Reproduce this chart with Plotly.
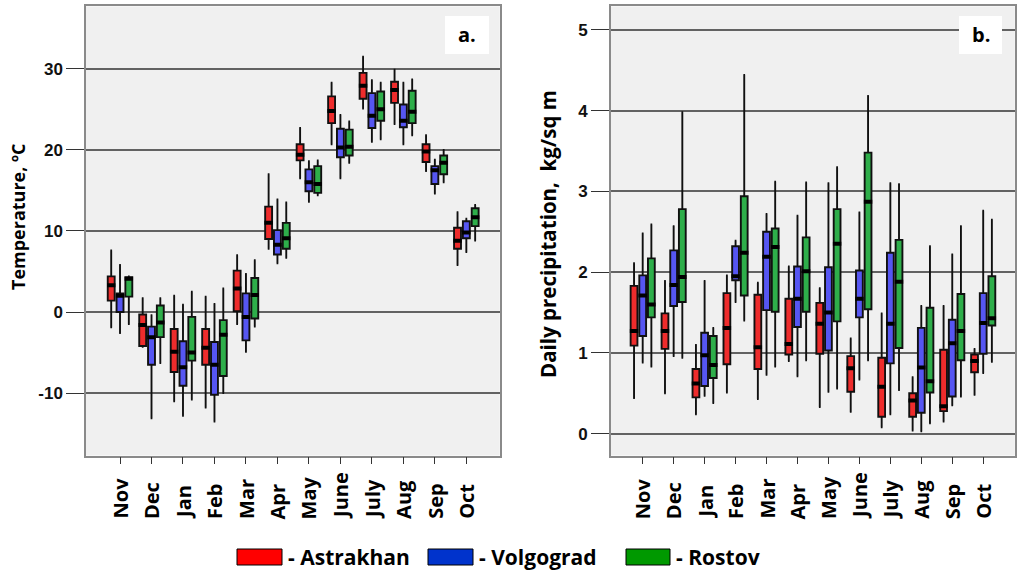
import plotly.graph_objects as go

# month labels and cities
months = ['Nov', 'Dec', 'Jan', 'Feb', 'Mar', 'Apr', 'May', 'June', 'July', 'Aug', 'Sep', 'Oct']
cities = ['Astrakhan', 'Volgograd', 'Rostov']
temp_ticks = [-10, 0, 10, 20, 30]
temp_ticktext = ['-10', '0', '10', '20', '30']
prec_ticks = [0, 1, 2, 3, 4, 5]

# temperature, degC: [whisker low, q1, median, q3, whisker high] per month
astrakhan_temp = [
    [-1.9, 1.4, 3.3, 4.4, 7.6], [-4.3, -4.2, -1.6, -0.3, 1.7], [-11.0, -7.4, -4.9, -2.1, 2.0],
    [-11.8, -6.5, -4.4, -2.1, 1.9], [-1.5, 0.1, 2.9, 5.1, 7.0], [7.8, 9.0, 11.0, 13.0, 17.0],
    [16.5, 18.7, 19.4, 20.7, 22.7], [20.7, 23.3, 24.8, 26.6, 28.3], [25.1, 26.3, 27.9, 29.5, 31.5],
    [23.2, 25.8, 27.4, 28.4, 29.9], [17.4, 18.5, 19.8, 20.7, 21.8], [5.8, 7.8, 8.8, 10.4, 12.3],
]
volgograd_temp = [
    [-2.6, 0.0, 2.0, 2.3, 5.8], [-13.1, -6.5, -3.1, -1.8, -0.4], [-12.8, -9.1, -6.8, -3.6, 0.9],
    [-13.5, -10.2, -6.5, -3.7, 1.0], [-4.9, -3.5, -0.6, 2.3, 4.7], [6.0, 7.1, 8.3, 10.1, 13.9],
    [13.6, 14.9, 16.0, 17.6, 18.6], [16.5, 19.1, 20.3, 22.6, 24.3], [21.0, 22.7, 24.2, 27.0, 28.6],
    [20.7, 22.8, 23.6, 25.6, 28.3], [14.6, 15.8, 17.5, 18.0, 18.8], [7.4, 9.1, 9.8, 11.2, 11.5],
]
rostov_temp = [
    [-1.5, 1.9, 4.1, 4.3, 4.4], [-6.3, -3.1, -1.3, 0.8, 1.7], [-10.8, -6.0, -5.0, -0.6, 2.5],
    [-10.0, -7.9, -2.8, -1.0, 2.9], [-1.8, -0.8, 2.1, 4.2, 6.4], [6.7, 7.8, 9.1, 11.0, 13.5],
    [14.4, 14.7, 15.8, 18.0, 18.7], [18.4, 19.3, 20.4, 22.5, 23.5], [21.3, 23.6, 25.0, 27.2, 28.3],
    [21.8, 23.3, 24.7, 27.3, 28.7], [16.0, 17.0, 18.4, 19.3, 20.0], [8.8, 10.6, 11.7, 12.8, 13.2],
]

# daily precipitation, kg/sq m
astrakhan_prec = [
    [0.44, 1.09, 1.27, 1.83, 2.11], [0.50, 1.05, 1.27, 1.49, 1.89], [0.24, 0.45, 0.62, 0.80, 1.10],
    [0.51, 0.86, 1.31, 1.74, 1.96], [0.43, 0.80, 1.07, 1.72, 1.87], [0.90, 0.98, 1.11, 1.67, 2.07],
    [0.33, 0.99, 1.36, 1.62, 1.80], [0.27, 0.52, 0.81, 0.96, 1.18], [0.08, 0.21, 0.58, 0.94, 1.49],
    [0.04, 0.21, 0.41, 0.50, 0.70], [0.15, 0.28, 0.34, 1.04, 1.58], [0.48, 0.76, 0.90, 0.98, 1.05],
]
volgograd_prec = [
    [0.88, 1.21, 1.71, 1.96, 2.48], [0.96, 1.58, 1.84, 2.27, 2.57], [0.47, 0.59, 0.97, 1.25, 1.89],
    [1.63, 1.90, 1.95, 2.32, 2.39], [0.73, 1.53, 2.19, 2.50, 2.72], [0.71, 1.32, 1.67, 2.07, 2.70],
    [0.52, 1.03, 1.50, 2.06, 3.10], [0.67, 1.44, 1.67, 2.02, 2.74], [0.24, 0.87, 1.36, 2.24, 3.10],
    [0.03, 0.26, 0.82, 1.31, 1.58], [0.35, 0.46, 1.12, 1.41, 2.22], [0.75, 0.99, 1.37, 1.74, 2.76],
]
rostov_prec = [
    [0.83, 1.44, 1.60, 2.17, 2.59], [0.94, 1.63, 1.94, 2.78, 3.98], [0.38, 0.69, 0.85, 1.21, 1.31],
    [1.40, 1.71, 2.24, 2.94, 4.44], [0.83, 1.51, 2.31, 2.54, 3.12], [0.91, 1.51, 2.01, 2.43, 3.11],
    [0.56, 1.39, 2.35, 2.78, 3.30], [0.91, 1.54, 2.87, 3.48, 4.18], [0.54, 1.06, 1.88, 2.40, 3.09],
    [0.13, 0.51, 0.65, 1.56, 2.32], [0.46, 0.91, 1.27, 1.73, 2.57], [0.89, 1.34, 1.43, 1.95, 2.65],
]

box_colors = ['#ee2c2c', '#5656f2', '#2eae4a']
legend_colors = ['#ff0000', '#0033cc', '#009900']
offsets = [-0.28, 0, 0.28]

fig = go.Figure()

panels = [
    ([astrakhan_temp, volgograd_temp, rostov_temp], 'x', 'y'),
    ([astrakhan_prec, volgograd_prec, rostov_prec], 'x2', 'y2'),
]
for data, xa, ya in panels:
    for k, rows in enumerate(data):
        xs = [i + offsets[k] for i in range(len(months))]
        fig.add_trace(go.Box(
            x=xs, xaxis=xa, yaxis=ya,
            lowerfence=[r[0] for r in rows], q1=[r[1] for r in rows],
            median=[r[2] for r in rows], q3=[r[3] for r in rows],
            upperfence=[r[4] for r in rows],
            width=0.22, whiskerwidth=0.25,
            fillcolor=box_colors[k], line=dict(color='#101010', width=1.9),
            showlegend=False, hoverinfo='skip',
        ))
        # thick black median band
        fig.add_trace(go.Scatter(
            x=xs, y=[r[2] for r in rows], xaxis=xa, yaxis=ya, mode='markers',
            marker=dict(symbol='line-ew', size=6, line=dict(width=4, color='black')),
            showlegend=False, hoverinfo='skip',
        ))

xcommon = dict(
    tickvals=list(range(len(months))), showticklabels=False,
    ticks='outside', ticklen=7, tickcolor='#333', showgrid=False, zeroline=False,
    showline=True, mirror=True, linecolor='#8a8a8a', linewidth=1.5,
)
ycommon = dict(
    tickfont=dict(family='Liberation Sans', size=17, color='#111', weight='bold'),
    ticks='outside', ticklen=18, tickcolor='#333', showgrid=True,
    gridcolor='#626262', gridwidth=1.5, zeroline=False,
    showline=True, mirror=True, linecolor='#8a8a8a', linewidth=1.5,
)

fig.update_layout(
    width=1024, height=581,
    margin=dict(l=0, r=0, t=0, b=0),
    paper_bgcolor='white', plot_bgcolor='#f0f0f0',
    xaxis=dict(domain=[0.084, 0.488], range=[-1.08, 12.06], anchor='y', **xcommon),
    yaxis=dict(domain=[0.216, 0.989], range=[-17.7, 37.7], tickvals=temp_ticks,
               ticktext=temp_ticktext, anchor='x', **ycommon),
    xaxis2=dict(domain=[0.5965, 0.991], range=[-1.03, 12.02], anchor='y2', **xcommon),
    yaxis2=dict(domain=[0.216, 0.989], range=[-0.27, 5.29], tickvals=prec_ticks,
                anchor='x2', **ycommon),
)

# month labels, rotated and aligned at their start like the original
month_font = dict(family='Open Sans', size=20, color='black', weight='bold')
for xa in ['x', 'x2']:
    for i, m in enumerate(months):
        fig.add_annotation(x=i, xref=xa, y=1 - 521 / 581, yref='paper', text=m,
                           textangle=-90, showarrow=False, xanchor='center',
                           yanchor='bottom', font=month_font)

# axis titles
fig.add_annotation(x=18 / 1024, y=1 - 217 / 581, xref='paper', yref='paper',
                   text='Temperature, ºC', textangle=-90, showarrow=False,
                   xanchor='center', yanchor='middle',
                   font=dict(family='Open Sans', size=18, color='black', weight='bold'))
fig.add_annotation(x=548 / 1024, y=1 - 234 / 581, xref='paper', yref='paper',
                   text='Daily precipitation,\u00a0 kg/sq m', textangle=-90, showarrow=False,
                   xanchor='center', yanchor='middle',
                   font=dict(family='Open Sans', size=20.5, color='black', weight='bold'))

# panel labels
for label, x0, x1 in [('a.', 445, 489), ('b.', 959, 1002)]:
    fig.add_shape(type='rect', xref='paper', yref='paper', x0=x0 / 1024, x1=x1 / 1024,
                  y0=1 - 54 / 581, y1=1 - 16 / 581, fillcolor='white', line=dict(width=0))
    fig.add_annotation(x=(x0 + x1) / 2 / 1024, y=1 - 35 / 581, xref='paper', yref='paper',
                       text=label, showarrow=False, xanchor='center', yanchor='middle',
                       font=dict(family='Open Sans', size=20, color='black', weight='bold'))

# legend drawn by hand
legend_boxes = [(237, 282), (428, 473), (626, 670)]
for name, col, (x0, x1) in zip(cities, legend_colors, legend_boxes):
    fig.add_shape(type='rect', xref='paper', yref='paper', x0=x0 / 1024, x1=x1 / 1024,
                  y0=1 - 565 / 581, y1=1 - 549 / 581, fillcolor=col,
                  line=dict(color='black', width=1))
    fig.add_annotation(x=(x1 + 4) / 1024, y=1 - 557 / 581, xref='paper', yref='paper',
                       text='- ' + name, showarrow=False, xanchor='left', yanchor='middle',
                       font=dict(family='Open Sans', size=21, color='black', weight='bold'))

fig.write_html('out.html', config={'displayModeBar': False},
               post_script="document.body.style.margin='0';")
